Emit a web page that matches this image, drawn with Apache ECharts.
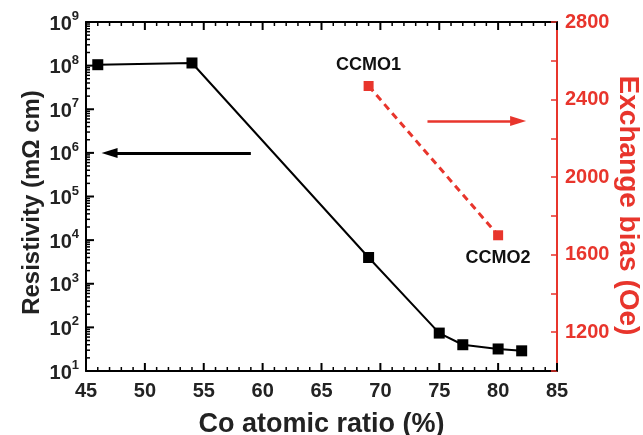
<!DOCTYPE html>
<html>
<head>
<meta charset="utf-8">
<script src="https://cdn.jsdelivr.net/npm/echarts@6/dist/echarts.min.js"></script>
<style>html,body{margin:0;padding:0;background:#fff}#c{width:643px;height:435px}</style>
</head>
<body>
<div id="c"></div>
<script>
// ---- data ----
const coRatio = [46, 54, 69, 75, 77, 80, 82];
const resistivity = [1.05e8, 1.15e8, 4000, 74, 40, 32, 29];
const ebRatio = [69, 80];
const exchangeBias = [2470, 1700];
const ebNames = ['CCMO1', 'CCMO2'];
const xTicks = [45, 50, 55, 60, 65, 70, 75, 80, 85];
const logExponents = [1, 2, 3, 4, 5, 6, 7, 8, 9];
const logMinorSteps = [2, 3, 4, 5, 6, 7, 8, 9];
const rightTicks = [1200, 1600, 2000, 2400, 2800];
const leftArrow = [[59, 1e6], [47, 1e6]];
const rightArrow = [[74, 2290], [81.7, 2290]];

const RED = '#e8352c';
const FONT = '"Liberation Sans", Arial, sans-serif';
const X_MIN = 45, X_MAX = 85, Y_MIN = 10, Y_MAX = 1e9;

const chart = echarts.init(document.getElementById('c'));

const blackData = coRatio.map((x, i) => [x, resistivity[i]]);
const redData = ebRatio.map((x, i) => ({
  value: [x, exchangeBias[i]],
  label: {
    show: true,
    formatter: ebNames[i],
    position: i === 0 ? 'top' : 'bottom',
    distance: i === 0 ? 7 : 9,
    color: '#111',
    fontFamily: FONT,
    fontWeight: 'bold',
    fontSize: 18
  }
}));

// tick list for the black frame: [x, y, side(0 bottom,1 top,2 left), major(1/0)]
const tickItems = [];
for (let v = X_MIN; v <= X_MAX; v++) {
  const major = xTicks.includes(v) ? 1 : 0;
  tickItems.push([v, Y_MIN, 0, major]);
  tickItems.push([v, Y_MAX, 1, major]);
}
logExponents.forEach(e => {
  tickItems.push([X_MIN, Math.pow(10, e), 2, 1]);
  if (e < 9) logMinorSteps.forEach(k => tickItems.push([X_MIN, k * Math.pow(10, e), 2, 0]));
});

function renderTick(params, api) {
  const p = api.coord([api.value(0), api.value(1)]);
  const side = api.value(2);
  const major = api.value(3) === 1;
  const len = major ? 8 : 4;
  let shape;
  if (side === 0) shape = {x1: p[0], y1: p[1], x2: p[0], y2: p[1] - len};
  else if (side === 1) shape = {x1: p[0], y1: p[1], x2: p[0], y2: p[1] + len};
  else shape = {x1: p[0], y1: p[1], x2: p[0] + len, y2: p[1]};
  return {type: 'line', shape: shape, style: {stroke: '#000', lineWidth: major ? 2 : 1.5}};
}

function xAxisCfg(pos) {
  return {
    type: 'value', min: X_MIN, max: X_MAX, interval: 5, position: pos,
    axisLine: {show: true, onZero: false, lineStyle: {color: '#000', width: 2}},
    axisTick: {show: false},
    splitLine: {show: false}
  };
}

const bottomX = Object.assign(xAxisCfg('bottom'), {
  name: 'Co atomic ratio (%)', nameLocation: 'middle', nameGap: 40, nameMoveOverlap: false,
  nameTextStyle: {fontFamily: FONT, fontWeight: 'bold', fontSize: 27, color: '#222'},
  axisLabel: {
    margin: 10, fontFamily: FONT, fontWeight: 'bold', fontSize: 20, color: '#222',
    formatter: v => xTicks.includes(v) ? String(v) : ''
  }
});
const topX = Object.assign(xAxisCfg('top'), {axisLabel: {show: false}});

const option = {
  animation: false,
  grid: {left: 86, right: 86, top: 22, bottom: 64, outerBoundsMode: 'none'},
  xAxis: [bottomX, topX],
  yAxis: [
    {
      type: 'log', min: Y_MIN, max: Y_MAX, position: 'left',
      name: 'Resistivity (m\u03A9 cm)', nameLocation: 'middle', nameGap: 42, nameRotate: 90,
      nameMoveOverlap: false,
      nameTextStyle: {fontFamily: FONT, fontWeight: 'bold', fontSize: 24, color: '#222', padding: [0, 12, 0, 0]},
      axisLine: {show: true, onZero: false, lineStyle: {color: '#000', width: 2}},
      axisTick: {show: false},
      splitLine: {show: false},
      axisLabel: {
        margin: 7,
        formatter: v => {
          const e = Math.round(Math.log10(v));
          return '{b|10}{s|' + e + '}';
        },
        rich: {
          b: {fontFamily: FONT, fontWeight: 'bold', fontSize: 20, color: '#222', verticalAlign: 'bottom', lineHeight: 24},
          s: {fontFamily: FONT, fontWeight: 'bold', fontSize: 13, color: '#222', verticalAlign: 'top', lineHeight: 24}
        }
      }
    },
    {
      type: 'value', min: 1000, max: 2800, interval: 200, position: 'right',
      name: 'Exchange bias (Oe)', nameLocation: 'middle', nameGap: 57, nameRotate: -90,
      nameMoveOverlap: false,
      nameTextStyle: {fontFamily: FONT, fontWeight: 'bold', fontSize: 28, color: RED, padding: [0, 0, 0, 18]},
      axisLine: {show: true, onZero: false, lineStyle: {color: RED, width: 2}},
      axisTick: {show: true, inside: true, length: 6, lineStyle: {color: RED, width: 1.5}},
      splitLine: {show: false},
      axisLabel: {
        margin: 8, fontFamily: FONT, fontWeight: 'bold', fontSize: 20, color: RED,
        formatter: v => rightTicks.includes(v) ? String(v) : ''
      }
    }
  ],
  series: [
    {
      type: 'custom', coordinateSystem: 'cartesian2d', xAxisIndex: 0, yAxisIndex: 0,
      silent: true, clip: false, z: 1,
      renderItem: renderTick, data: tickItems
    },
    {
      type: 'line', xAxisIndex: 0, yAxisIndex: 0, data: blackData,
      symbol: 'rect', symbolSize: 11, z: 3,
      itemStyle: {color: '#000'},
      lineStyle: {color: '#000', width: 2},
      markLine: {
        silent: true, symbol: ['none', 'triangle'], symbolSize: [10, 16],
        label: {show: false},
        lineStyle: {color: '#000', width: 3, type: 'solid'},
        data: [[{coord: leftArrow[0]}, {coord: leftArrow[1]}]]
      }
    },
    {
      type: 'line', xAxisIndex: 0, yAxisIndex: 1, data: redData,
      symbol: 'rect', symbolSize: 10, z: 3,
      itemStyle: {color: RED},
      lineStyle: {color: RED, width: 3, type: [7, 5]},
      markLine: {
        silent: true, symbol: ['none', 'triangle'], symbolSize: [10, 16],
        label: {show: false},
        lineStyle: {color: RED, width: 2.5, type: 'solid'},
        data: [[{coord: rightArrow[0]}, {coord: rightArrow[1]}]]
      }
    }
  ]
};
chart.setOption(option);
</script>
</body>
</html>
